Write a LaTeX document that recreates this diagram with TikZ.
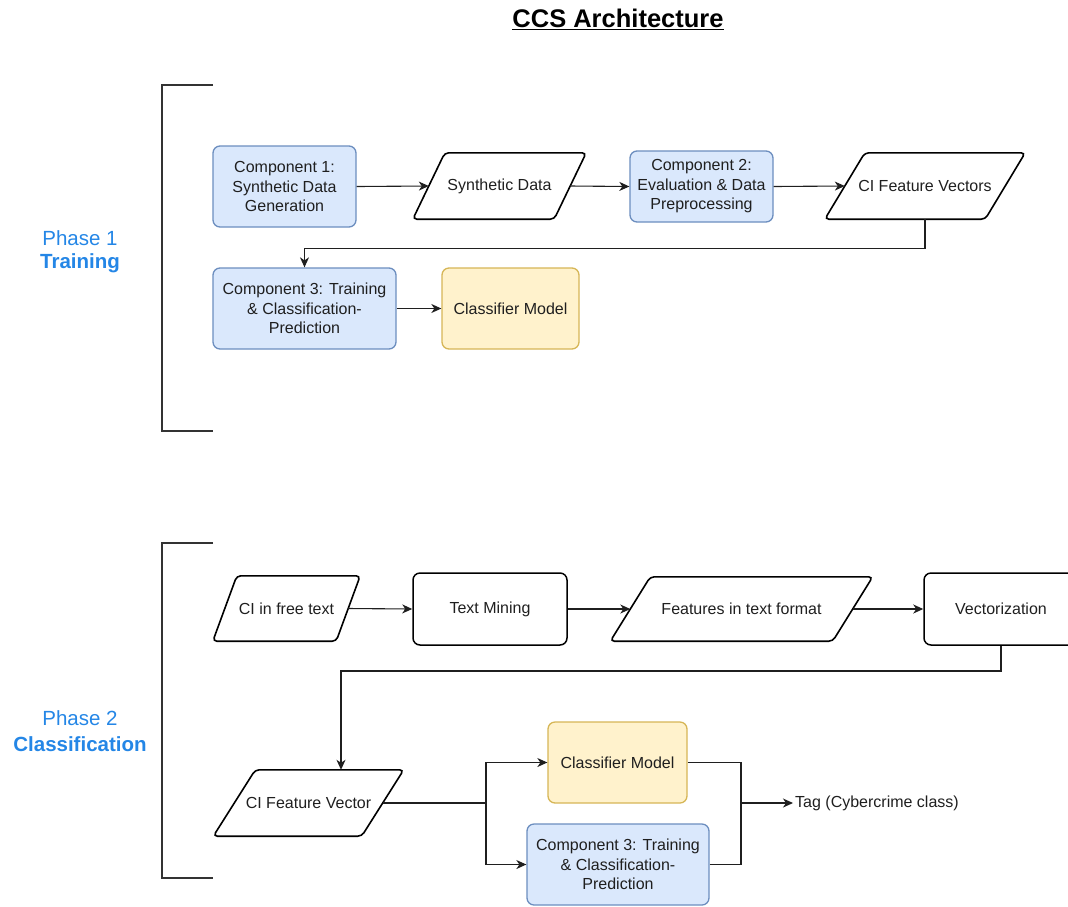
\documentclass[tikz,border=0pt]{standalone}
\usepackage{fontspec}
\setmainfont{Liberation Sans}
\usetikzlibrary{arrows.meta}

\definecolor{bluefill}{HTML}{DAE8FC}
\definecolor{blueline}{HTML}{6C8EBF}
\definecolor{yellowfill}{HTML}{FFF2CC}
\definecolor{yellowline}{HTML}{D6B656}
\definecolor{phaseblue}{HTML}{2486E6}
\definecolor{ink}{HTML}{1F1F1F}

\newcommand\boxtextfont{\fontsize{16}{19.5}\selectfont}
% parallelogram around a (borderless) data node; #2 = half of the slant
\newcommand\datashape[2]{%
  \draw[datashape] ([xshift=-#2pt]#1.south west) -- ([xshift=#2pt]#1.north west)
    -- ([xshift=#2pt]#1.north east) -- ([xshift=-#2pt]#1.south east) -- cycle;}

\tikzset{
  proc/.style={rectangle, rounded corners=7pt, align=center, font=\boxtextfont,
    text=ink, inner sep=2pt},
  bluebox/.style={proc, draw=blueline, fill=bluefill, line width=1.3pt},
  yellowbox/.style={proc, draw=yellowline, fill=yellowfill, line width=1.3pt},
  plainbox/.style={proc, draw=black, line width=1.5pt},
  datanode/.style={rectangle, align=center, font=\boxtextfont, text=ink, inner sep=0pt},
  datashape/.style={draw=black, line width=1.6pt, rounded corners=4pt},
  link/.style={draw=ink, line width=1.1pt, -{Stealth[length=10pt,width=9pt,inset=3pt]}},
  plainlink/.style={draw=ink, line width=1.1pt},
  bracket/.style={draw=black!80, line width=2pt},
  phaselabel/.style={font=\fontsize{20.5}{24}\selectfont, text=phaseblue},
  phasebold/.style={font=\fontsize{20.5}{24}\selectfont\bfseries, text=phaseblue},
}

\begin{document}
\begin{tikzpicture}[x=1pt,y=-1pt]
\useasboundingbox (0,0) rectangle (1068,906);

% title
\node (title) at (618,19) {\fontsize{25.5}{29}\selectfont\bfseries\underline{CCS Architecture}};

% phase brackets and labels
\draw[bracket] (213,85) -- (162,85) -- (162,431) -- (213,431);
\draw[bracket] (213,543) -- (162,543) -- (162,878) -- (213,878);
\node[phaselabel] (p1a) at (80,238) {Phase 1};
\node[phasebold] (p1b) at (80,263) {Training};
\node[phaselabel] (p2a) at (80,718) {Phase 2};
\node[phasebold] (p2b) at (80,744) {Classification};

% ---------- Phase 1: training ----------
\node[bluebox, minimum width=143pt, minimum height=81pt] (c1) at (284.5,186.5)
  {Component 1:\\Synthetic Data\\Generation};
\node[datanode, minimum width=141pt, minimum height=66pt] (sd) at (499.5,186) {Synthetic Data};
\datashape{sd}{16}
\node[bluebox, minimum width=143pt, minimum height=71pt] (c2) at (701.5,186.5)
  {Component 2:\\Evaluation \& Data\\Preprocessing};
\node[datanode, minimum width=160pt, minimum height=66pt] (cifv) at (925,186) {CI Feature Vectors};
\datashape{cifv}{20}
\node[bluebox, minimum width=183pt, minimum height=81pt] (c3) at (304.5,308.5)
  {Component 3: Training\\\& Classification-\\Prediction};
\node[yellowbox, minimum width=137pt, minimum height=81pt] (cm1) at (510.5,308.5) {Classifier Model};

\draw[link] (c1.east) -- (sd.west);
\draw[link] (sd.east) -- (c2.west);
\draw[link] (c2.east) -- (cifv.west);
\draw[link] (cifv.south) -- ++(0,29) -| (c3.north);
\draw[link] (c3.east) -- (cm1.west);

% ---------- Phase 2: classification ----------
\node[datanode, minimum width=123pt, minimum height=65pt] (cift) at (286.5,608.5) {CI in free text};
\datashape{cift}{12}
\node[plainbox, minimum width=154pt, minimum height=72pt] (tm) at (490,609) {Text Mining};
\node[datanode, minimum width=222pt, minimum height=64pt] (fitf) at (741.5,609) {Features in text format};
\datashape{fitf}{20}
\node[plainbox, minimum width=154pt, minimum height=72pt] (vec) at (1001,609) {Vectorization};

\draw[link] (cift.east) -- (tm.west);
\draw[link] (tm.east) -- (fitf.west);
\draw[link] (fitf.east) -- (vec.west);

\coordinate (k2) at (341,671);
\node[datanode, minimum width=148pt, minimum height=66pt] (cifv2) at (308.5,803) {CI Feature Vector};
\datashape{cifv2}{21}
\draw[link] (vec.south) |- (k2) -- (k2 |- cifv2.north);

\node[yellowbox, minimum width=139pt, minimum height=81pt] (cm2) at (617.5,762.5) {Classifier Model};
\node[bluebox, minimum width=182pt, minimum height=81pt] (c3b) at (618,864.5)
  {Component 3: Training\\\& Classification-\\Prediction};

\coordinate (split) at (486,803);
\coordinate (join) at (741,803);
\node[font=\boxtextfont, text=ink, anchor=west, inner sep=2pt] (tag) at (793,803) {Tag (Cybercrime class)};

\draw[plainlink] (cifv2.east) -- (split);
\draw[link] (split) |- (cm2.west);
\draw[link] (split) |- (c3b.west);
\draw[plainlink] (cm2.east) -| (join);
\draw[plainlink] (c3b.east) -| (join);
\draw[link] (join) -- (tag.west);
\end{tikzpicture}
\end{document}
